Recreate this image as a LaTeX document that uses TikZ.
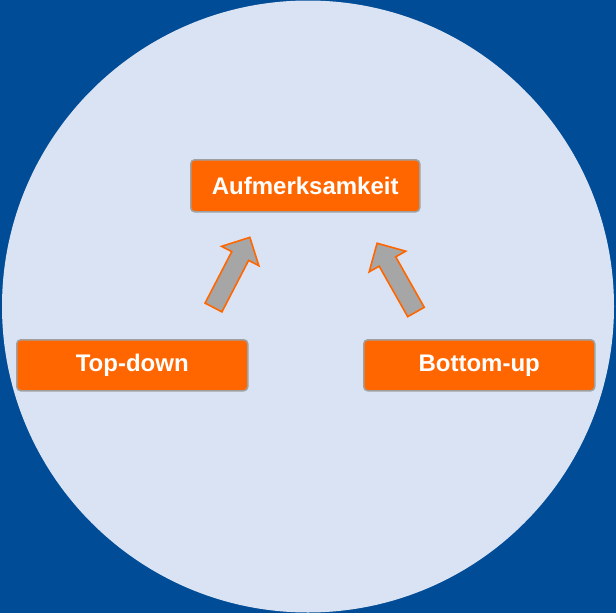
\documentclass[tikz,border=0pt]{standalone}
\usepackage{fontspec}
\setmainfont{Liberation Sans}
\definecolor{bgblue}{RGB}{0,76,151}
\definecolor{circfill}{RGB}{218,227,243}
\definecolor{boxorange}{RGB}{255,102,0}
\definecolor{boxedge}{RGB}{160,160,160}
\definecolor{arrgray}{RGB}{166,166,166}
\tikzset{
  labelbox/.style={draw=boxedge, line width=1.5pt, fill=boxorange, rounded corners=4pt,
    text=white, font=\fontsize{24}{28}\selectfont\bfseries, inner sep=0pt, anchor=north west},
  blockarrow/.style={draw=boxorange, fill=arrgray, line width=1.6pt, line join=miter}
}
\begin{document}
\begin{tikzpicture}[x=1pt,y=-1pt]
\useasboundingbox (0,0) rectangle (616,613);
\fill[bgblue] (0,0) rectangle (616,613);
\fill[circfill] (308,306.5) circle (306);
\node[labelbox, minimum width=229, minimum height=52] (att) at (190,159) {Aufmerksamkeit};
\node[labelbox, minimum width=231, minimum height=51] (td) at (16,339) {Top-down};
\node[labelbox, minimum width=231, minimum height=51] (bu) at (363,339) {Bottom-up};
% block arrows: local frame, x along arrow, length 79, shaft 19, head 42 wide, 21 long
\draw[blockarrow, shift={(213.5,307.5)}, rotate=62.6]
  (0,-9.5) -- (58,-9.5) -- (58,-21) -- (79,0) -- (58,21) -- (58,9.5) -- (0,9.5) -- cycle;
\draw[blockarrow, shift={(416,312)}, rotate=119.5]
  (0,-9.5) -- (58,-9.5) -- (58,-21) -- (79,0) -- (58,21) -- (58,9.5) -- (0,9.5) -- cycle;
\end{tikzpicture}
\end{document}
